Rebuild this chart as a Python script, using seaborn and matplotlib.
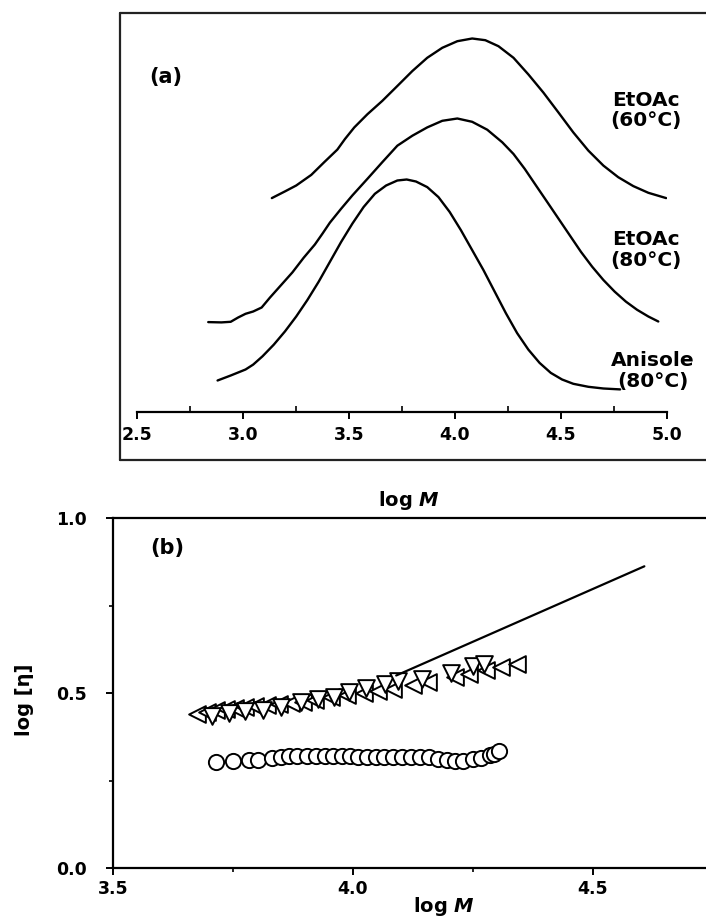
import matplotlib
matplotlib.use("Agg")
import matplotlib.pyplot as plt
from matplotlib.lines import Line2D
from matplotlib.ticker import MultipleLocator
import seaborn as sns

# ---- (a) molecular weight distributions (log M vs. detector signal, a.u.) ----
logm_60 = [3.136, 3.198, 3.251, 3.322, 3.383, 3.445, 3.481, 3.525, 3.587, 3.657,
           3.728, 3.799, 3.869, 3.940, 4.011, 4.081, 4.143, 4.205, 4.276, 4.346,
           4.417, 4.488, 4.558, 4.629, 4.700, 4.770, 4.841, 4.912, 4.996]
w_60 = [213.9, 220.6, 226.5, 237.1, 249.8, 262.4, 273.0, 284.6, 297.8, 311.1,
        326.0, 341.0, 354.2, 364.2, 370.8, 373.5, 371.8, 365.8, 354.2, 337.6,
        319.4, 299.5, 279.6, 261.4, 246.4, 234.8, 225.9, 219.2, 213.9]

logm_80 = [2.836, 2.898, 2.942, 2.977, 3.012, 3.048, 3.088, 3.127, 3.180, 3.233,
           3.286, 3.339, 3.375, 3.410, 3.463, 3.516, 3.587, 3.657, 3.728, 3.799,
           3.869, 3.940, 4.011, 4.081, 4.152, 4.223, 4.276, 4.329, 4.382, 4.435,
           4.488, 4.541, 4.594, 4.647, 4.700, 4.753, 4.806, 4.859, 4.912, 4.959]
w_80 = [89.9, 89.6, 90.2, 94.5, 98.2, 100.5, 104.5, 114.4, 127.0, 139.6,
        154.2, 167.5, 178.4, 189.4, 203.3, 216.6, 233.2, 249.8, 266.3, 276.3,
        284.6, 291.2, 293.5, 290.2, 282.3, 269.7, 258.0, 243.1, 226.5, 210.0,
        193.4, 176.8, 160.2, 145.3, 132.0, 120.4, 110.4, 102.2, 95.5, 90.5]

logm_an = [2.880, 2.942, 3.012, 3.048, 3.092, 3.145, 3.198, 3.251, 3.304, 3.357,
           3.410, 3.463, 3.516, 3.569, 3.622, 3.675, 3.728, 3.772, 3.816, 3.869,
           3.922, 3.975, 4.028, 4.081, 4.134, 4.187, 4.240, 4.293, 4.346, 4.399,
           4.452, 4.505, 4.558, 4.629, 4.700, 4.779]
w_an = [31.5, 36.5, 42.5, 47.4, 55.7, 67.3, 80.6, 95.5, 112.1, 130.3,
        150.2, 170.1, 188.4, 205.0, 218.2, 226.5, 231.5, 232.5, 230.5, 224.9,
        214.9, 200.0, 181.8, 161.9, 142.0, 120.4, 98.8, 78.9, 62.4, 49.1,
        39.1, 32.5, 28.2, 25.2, 23.5, 22.6]

curve_labels = ["EtOAc\n(60°C)", "EtOAc\n(80°C)", "Anisole\n(80°C)"]

# ---- (b) intrinsic viscosity vs. log M ----
circ_logm = [3.715, 3.751, 3.783, 3.802, 3.832, 3.850, 3.866, 3.884, 3.904, 3.923,
             3.941, 3.959, 3.977, 3.994, 4.011, 4.029, 4.047, 4.065, 4.084, 4.102,
             4.121, 4.140, 4.158, 4.177, 4.196, 4.213, 4.230, 4.249, 4.267, 4.285,
             4.293, 4.305]
circ_eta = [0.303, 0.305, 0.309, 0.310, 0.314, 0.317, 0.319, 0.320, 0.321, 0.321,
            0.321, 0.321, 0.320, 0.319, 0.318, 0.317, 0.317, 0.317, 0.317, 0.317,
            0.318, 0.318, 0.317, 0.312, 0.309, 0.307, 0.307, 0.311, 0.315, 0.322,
            0.327, 0.334]

down_logm = [3.707, 3.742, 3.776, 3.812, 3.850, 3.891, 3.927, 3.961, 3.991, 4.027,
             4.066, 4.094, 4.144, 4.205, 4.249, 4.273]
down_eta = [0.433, 0.443, 0.449, 0.452, 0.460, 0.474, 0.482, 0.490, 0.503, 0.514,
            0.527, 0.533, 0.541, 0.557, 0.576, 0.584]

left_logm = [3.675, 3.695, 3.715, 3.735, 3.755, 3.775, 3.795, 3.820, 3.845, 3.870,
             3.895, 3.920, 3.955, 3.987, 4.023, 4.052, 4.084, 4.124, 4.156, 4.213,
             4.241, 4.277, 4.309, 4.341]
left_eta = [0.440, 0.446, 0.451, 0.455, 0.458, 0.461, 0.463, 0.466, 0.469, 0.472,
            0.475, 0.480, 0.489, 0.493, 0.500, 0.506, 0.512, 0.522, 0.531, 0.546,
            0.555, 0.565, 0.574, 0.584]

fit_logm = [4.09, 4.607]
fit_eta = [0.55, 0.862]

# ---- styling ----
sns.set_theme(style="white")
plt.rcParams["font.family"] = ["DejaVu Sans"]
plt.rcParams["font.weight"] = "bold"
plt.rcParams["text.color"] = "black"
plt.rcParams["axes.labelcolor"] = "black"
plt.rcParams["mathtext.fontset"] = "custom"
plt.rcParams["mathtext.it"] = "DejaVu Sans:italic:bold"
plt.rcParams["mathtext.rm"] = "DejaVu Sans:bold"
plt.rcParams["axes.linewidth"] = 1.6

W, H = 706, 919
fig = plt.figure(figsize=(W / 100, H / 100), dpi=100)


def fx(px):
    return px / W


def fy(py):
    return 1 - py / H


# frame around panel (a)
frame_kw = dict(color="#222222", lw=1.6, transform=fig.transFigure)
fig.add_artist(Line2D([fx(120), 1.0], [fy(13), fy(13)], **frame_kw))
fig.add_artist(Line2D([fx(120), fx(120)], [fy(13), fy(460)], **frame_kw))
fig.add_artist(Line2D([fx(120), 1.0], [fy(460), fy(460)], **frame_kw))

# ---- panel (a) ----
ax1 = fig.add_axes([fx(137), fy(412), fx(667) - fx(137), fy(13) - fy(412)])
ax1.patch.set_alpha(0)
for xs, ys in [(logm_60, w_60), (logm_80, w_80), (logm_an, w_an)]:
    sns.lineplot(x=xs, y=ys, ax=ax1, color="black", lw=1.7, sort=False)
ax1.set_xlim(2.5, 5.0)
ax1.set_ylim(0, 399)
for s in ["left", "right", "top"]:
    ax1.spines[s].set_visible(False)
ax1.spines["bottom"].set_color("black")
ax1.set_yticks([])
ax1.xaxis.set_major_locator(MultipleLocator(0.5))
ax1.xaxis.set_minor_locator(MultipleLocator(0.25))
ax1.tick_params(axis="x", which="major", direction="out", length=5, width=1.4,
                pad=5, labelsize=12.5, bottom=True, colors="black")
ax1.tick_params(axis="x", which="minor", direction="in", length=4, width=1.2,
                bottom=True, colors="black")
ax1.set_xticklabels([f"{v:.1f}" for v in ax1.get_xticks()], fontweight="bold")
ax1.set_xlabel("log $M$", fontsize=14, fontweight="bold")
ax1.xaxis.label.set_va("center")
ax1.xaxis.set_label_coords((409 - 137) / 530, -(500 - 412) / 399)
ax1.text(2.637, 335, "(a)", fontsize=15, fontweight="bold", ha="center", va="center")

label_pos = [(4.903, 301.5), (4.903, 162), (4.934, 41)]
for txt, (lx, ly) in zip(curve_labels, label_pos):
    ax1.text(lx, ly, txt, fontsize=14.5, fontweight="bold", ha="center", va="center",
             multialignment="center", linespacing=1.1, clip_on=False)

# ---- panel (b) ----
X0, PX_PER_UNIT = 113, 480
ax2 = fig.add_axes([fx(X0), fy(868), 1 - fx(X0), fy(518) - fy(868)])
ax2.patch.set_alpha(0)
mk = dict(facecolor="white", edgecolor="black", linewidth=1.4, legend=False, ax=ax2,
          zorder=3)
sns.scatterplot(x=circ_logm, y=circ_eta, marker="o", s=120, **mk)
sns.scatterplot(x=left_logm, y=left_eta, marker="<", s=145, **mk)
sns.scatterplot(x=down_logm, y=down_eta, marker="v", s=145, **mk)
sns.lineplot(x=fit_logm, y=fit_eta, ax=ax2, color="black", lw=1.6, zorder=4)
ax2.set_xlim(3.5, 3.5 + (W - X0) / PX_PER_UNIT)
ax2.set_ylim(0, 1.0)
ax2.spines["right"].set_visible(False)
for s in ["left", "bottom", "top"]:
    ax2.spines[s].set_color("black")
ax2.xaxis.set_minor_locator(MultipleLocator(0.25))
ax2.yaxis.set_minor_locator(MultipleLocator(0.25))
ax2.tick_params(axis="both", which="major", direction="out", length=5, width=1.4,
                labelsize=12.5, colors="black", bottom=True, left=True)
ax2.tick_params(axis="both", which="minor", direction="out", length=3, width=1.2,
                colors="black", bottom=True, left=True)
ax2.tick_params(axis="x", which="major", pad=4)
ax2.tick_params(axis="y", which="major", pad=14)
ax2.set_xticks([3.5, 4.0, 4.5])
ax2.set_xticklabels(["3.5", "4.0", "4.5"], fontweight="bold")
ax2.set_yticks([0.0, 0.5, 1.0])
ax2.set_yticklabels(["0.0", "0.5", "1.0"], fontweight="bold")
ax2.set_xlabel("log $M$", fontsize=14, fontweight="bold")
ax2.xaxis.label.set_va("center")
ax2.xaxis.set_label_coords((444 - X0) / (W - X0), -(907 - 868) / 350)
ax2.set_ylabel("log [η]", fontsize=14, fontweight="bold")
ax2.yaxis.label.set_va("center")
ax2.yaxis.set_label_coords((25 - X0) / (W - X0), (868 - 700) / 350)
ax2.text(3.6125, 0.914, "(b)", fontsize=15, fontweight="bold", ha="center", va="center")

fig.savefig("out.png", dpi=100)
